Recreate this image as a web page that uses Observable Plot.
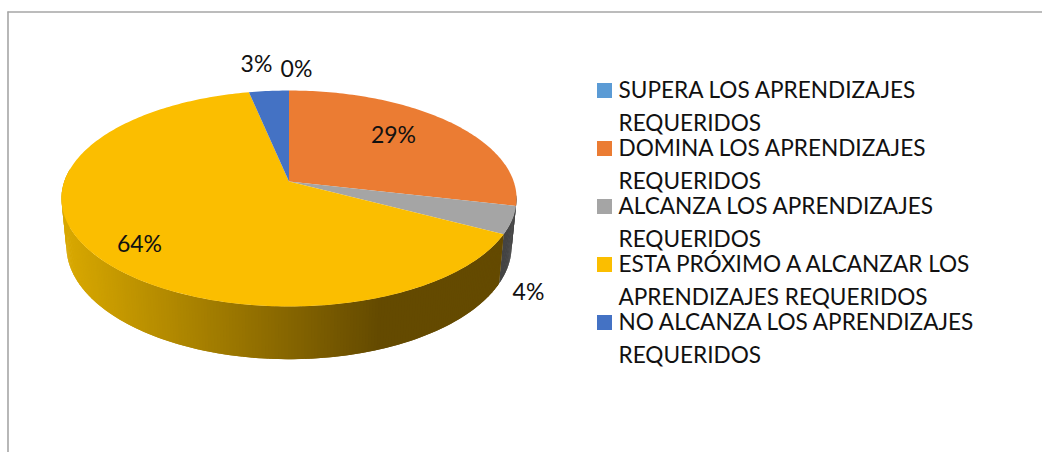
<!DOCTYPE html>
<html lang="es">
<head>
<meta charset="utf-8">
<style>html,body{margin:0;padding:0;background:#fff;overflow:hidden}svg{display:block}</style>
<script src="https://cdn.jsdelivr.net/npm/d3@7"></script>
<script src="https://cdn.jsdelivr.net/npm/@observablehq/plot@0.6"></script>
</head>
<body>
<script>
// Data
const categories = ["SUPERA LOS APRENDIZAJES REQUERIDOS", "DOMINA LOS APRENDIZAJES REQUERIDOS", "ALCANZA LOS APRENDIZAJES REQUERIDOS", "ESTA PRÓXIMO A ALCANZAR LOS APRENDIZAJES REQUERIDOS", "NO ALCANZA LOS APRENDIZAJES REQUERIDOS"];
const shares = [0, 0.286, 0.041, 0.640, 0.033];
const legendLines = [
  ["SUPERA LOS APRENDIZAJES", "REQUERIDOS"],
  ["DOMINA LOS APRENDIZAJES", "REQUERIDOS"],
  ["ALCANZA LOS APRENDIZAJES", "REQUERIDOS"],
  ["ESTA PRÓXIMO A ALCANZAR LOS", "APRENDIZAJES REQUERIDOS"],
  ["NO ALCANZA LOS APRENDIZAJES", "REQUERIDOS"]
];
const topColors = ["#5B9BD5", "#EB7C33", "#A5A5A5", "#FBBE00", "#4472C4"];

// Layout (separate from the data)
const W = 1042, H = 452, FONT = "Lato";
const cx = 288.5, k = 0.1574;
const topPlane = {y0: 181, a: 224.7, b: 105.3};
const basePlane = {y0: 227.9, a: 219.8, b: 110.2};
const labelAt = [[296, 69], [393, 135.5], [528, 292.5], [139, 244], [256, 64.5]];
const legend = {x: 597, sw: 15, textX: 618, y: 83, step: 58, base1: 14.2, base2: 47.2};

const TAU = Math.PI * 2;
function project(plane, frac) {
  const t = frac * TAU, u = Math.sin(t), v = -Math.cos(t), d = 1 - k * v;
  return [cx + plane.a * u / d, plane.y0 + plane.b * v / d];
}
function fracs(a, b) {
  const n = Math.max(1, Math.ceil((b - a) * 360));
  return d3.range(n + 1).map(i => a + (b - a) * i / n);
}
let acc = 0;
const slices = shares.map((s, i) => {
  const r = {i, start: acc, end: acc + s, share: s, name: categories[i], color: topColors[i]};
  acc += s;
  return r;
});

// top face polygons
const facePts = slices.filter(d => d.share > 0).flatMap(d => {
  const pts = [[cx, topPlane.y0], ...fracs(d.start, d.end).map(f => project(topPlane, f))];
  return pts.map(p => ({x: p[0], y: p[1], id: d.i, color: d.color}));
});

// side wall strips, painted so each overlaps the next: shade depends on drawn position
const shadeYellow = d3.scaleLinear().domain([65, 380]).range(["#d8a800", "#644a00"]).clamp(true);
const wallPts = [];
let wallId = 0;
const visibleFrom = 0.27, visibleTo = 0.77;
function addWall(a, b, colorOf, step) {
  const n = Math.max(1, Math.ceil((b - a) / step));
  // walk from the far left end towards the right so the seams are covered
  for (let i = n - 1; i >= 0; i--) {
    const f0 = a + (b - a) * i / n, f1 = a + (b - a) * (i + 1) / n;
    const f0x = Math.max(a, f0 - (b - a) / n);
    const p = [project(topPlane, f0x), project(topPlane, f1), project(basePlane, f1), project(basePlane, f0x)];
    const c = colorOf((project(topPlane, f0)[0] + project(topPlane, f1)[0]) / 2);
    p.forEach(q => wallPts.push({x: q[0], y: q[1], id: wallId, color: c}));
    wallId++;
  }
}
slices.forEach(d => {
  const a = Math.max(d.start, visibleFrom), b = Math.min(d.end, visibleTo);
  if (b <= a) return;
  const colorOf = d.i === 3 ? shadeYellow : () => "#444444";
  addWall(a, b, colorOf, 0.002);
});

const labels = slices.map((d, i) => ({x: labelAt[i][0], y: labelAt[i][1], text: d3.format(".0%")(d.share)}));
const swatches = slices.map((d, i) => ({x1: legend.x, x2: legend.x + legend.sw, y1: legend.y + i * legend.step, y2: legend.y + legend.sw + i * legend.step, color: d.color}));
const legendText = legendLines.flatMap((l, i) => l.map((t, j) => ({x: legend.textX, y: legend.y + i * legend.step + (j ? legend.base2 : legend.base1), text: t})));

const chart = Plot.plot({
  width: W, height: H, margin: 0,
  x: {domain: [0, W], range: [0, W], axis: null},
  y: {domain: [0, H], range: [0, H], axis: null},
  style: {background: "#fff", fontFamily: FONT},
  marks: [
    Plot.ruleX([7.5], {y1: 11.5, y2: H, stroke: "#a6a6a6", strokeWidth: 1.6}),
    Plot.ruleY([11.5], {x1: 7.5, x2: W, stroke: "#a6a6a6", strokeWidth: 1.4}),
    Plot.line(wallPts, {x: "x", y: "y", z: "id", fill: "color", stroke: "none", curve: "linear"}),
    Plot.line(facePts, {x: "x", y: "y", z: "id", fill: "color", stroke: "none", curve: "linear"}),
    Plot.text(labels, {x: "x", y: "y", text: "text", fontSize: 23, fill: "#111", textAnchor: "middle"}),
    Plot.rect(swatches, {x1: "x1", x2: "x2", y1: "y1", y2: "y2", fill: "color", inset: 0}),
    Plot.text(legendText, {x: "x", y: "y", text: "text", fontSize: 22.6, fill: "#111", textAnchor: "start", lineAnchor: "bottom"})
  ]
});
document.body.appendChild(chart);
</script>
</body>
</html>
